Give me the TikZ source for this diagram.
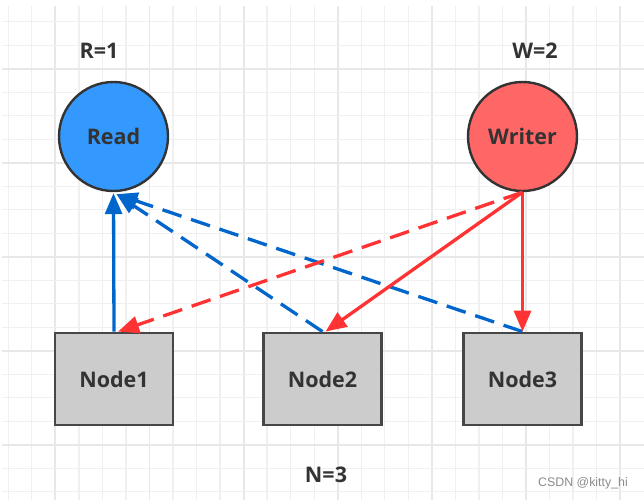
\documentclass[tikz,border=0pt]{standalone}
\usepackage{fontspec}
\setmainfont{Open Sans}
\newfontfamily\wmfont{Liberation Sans}
\usetikzlibrary{arrows.meta}
\definecolor{gridminor}{HTML}{F0F0F0}
\definecolor{gridmajor}{HTML}{E8E8E8}
\definecolor{readfill}{HTML}{3399FF}
\definecolor{writefill}{HTML}{FF6666}
\definecolor{boxfill}{HTML}{CCCCCC}
\definecolor{edgedark}{HTML}{333333}
\definecolor{txt}{HTML}{333333}
\definecolor{bluearrow}{HTML}{0066CC}
\definecolor{redarrow}{HTML}{FF3333}
\tikzset{
  circnode/.style={circle, draw=edgedark, line width=2.4pt, minimum size=109pt, inner sep=0pt,
    font=\fontsize{21.5}{24}\selectfont\bfseries, text=txt},
  boxnode/.style={rectangle, draw=edgedark!90, line width=2.8pt, fill=boxfill, minimum width=118pt,
    minimum height=92pt, inner sep=0pt, font=\fontsize{21.5}{24}\selectfont\bfseries, text=txt},
  lbl/.style={font=\fontsize{21.5}{24}\selectfont\bfseries, text=txt, inner sep=0pt},
  conn/.style={line width=3.3pt, -{Triangle[length=21pt,width=17pt]}},
  dashconn/.style={conn, dash pattern=on 20pt off 10pt},
}
\begin{document}
\begin{tikzpicture}[x=1pt,y=-1pt]
\useasboundingbox (0,0) rectangle (644,500);
\fill[white] (0,0) rectangle (644,500);
% grid
\foreach \k in {0,...,26}{
  \pgfmathsetmacro{\gx}{8.3+23.53*\k}
  \pgfmathtruncatemacro{\m}{mod(\k,4)}
  \ifnum\m=2
    \draw[gridmajor, line width=1.8pt] (\gx,6) -- (\gx,500);
  \else
    \draw[gridminor, line width=1.3pt] (\gx,6) -- (\gx,500);
  \fi
}
\foreach \k in {0,...,20}{
  \pgfmathsetmacro{\gy}{21.7+23.5*\k}
  \pgfmathtruncatemacro{\m}{mod(\k,4)}
  \ifnum\m=2
    \draw[gridmajor, line width=1.8pt] (2,\gy) -- (644,\gy);
  \else
    \draw[gridminor, line width=1.3pt] (2,\gy) -- (644,\gy);
  \fi
}
% nodes
\node[circnode, fill=readfill] (read) at (113.5,136.5) {Read};
\node[circnode, fill=writefill] (writer) at (522.5,136.5) {Writer};
\node[boxnode] (n1) at (114,379) {Node1};
\node[boxnode] (n2) at (322.5,379) {Node2};
\node[boxnode] (n3) at (522.5,379) {Node3};
\node[lbl] (rl) at (99,50.5) {R=1};
\node[lbl] (wl) at (535,50.5) {W=2};
\node[lbl] (nl) at (326,475) {N=3};
\node[font=\wmfont\fontsize{12.4}{14}\selectfont, text=black!45, inner sep=0pt] (wm) at (583,483) {CSDN @kitty\_hi};
% connectors
\draw[conn, bluearrow] (n1.north) -- ([yshift=-1pt]read.south);
\draw[dashconn, bluearrow] (n2.north) -- ([xshift=3pt,yshift=-2pt]read.south);
\draw[dashconn, bluearrow] (n3.north) -- ([xshift=3pt,yshift=-2pt]read.south);
\draw[dashconn, redarrow] (writer.south) -- ([xshift=4pt]n1.north);
\draw[conn, redarrow] (writer.south) -- ([xshift=3pt]n2.north);
\draw[conn, redarrow] (writer.south) -- (n3.north);
\end{tikzpicture}
\end{document}
